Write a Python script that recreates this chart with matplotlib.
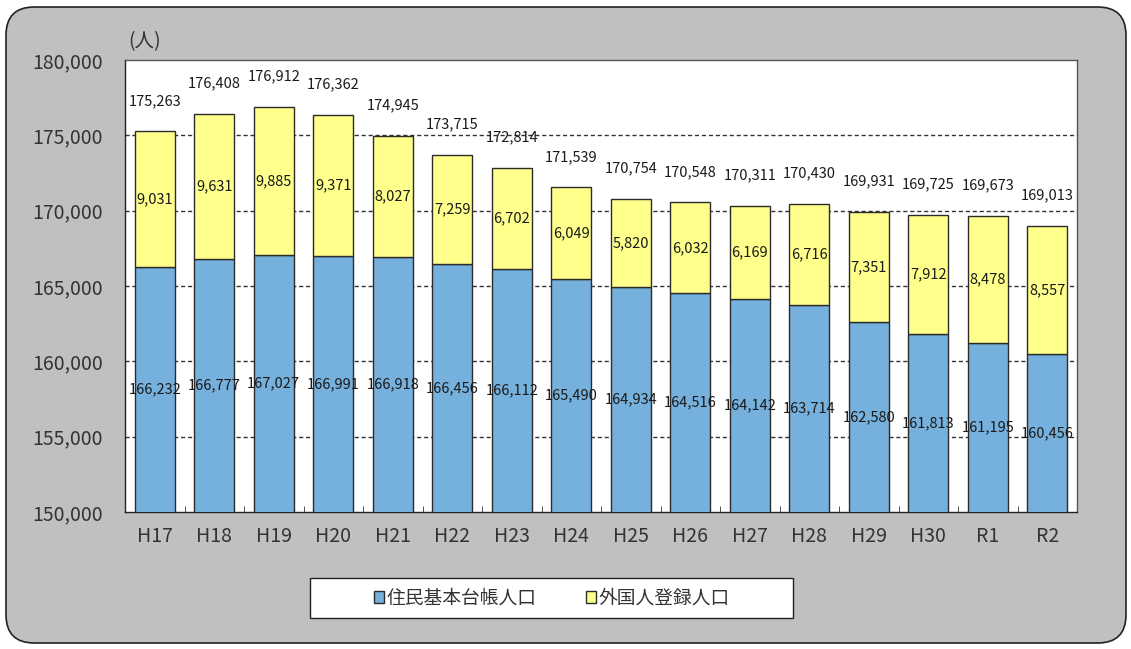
import matplotlib
matplotlib.use("Agg")
import matplotlib.pyplot as plt
from matplotlib.patches import FancyBboxPatch, Rectangle
from matplotlib.ticker import FuncFormatter

plt.rcParams['font.family'] = ['Noto Sans CJK JP', 'DejaVu Sans']

# data
years = ['H17', 'H18', 'H19', 'H20', 'H21', 'H22', 'H23', 'H24',
         'H25', 'H26', 'H27', 'H28', 'H29', 'H30', 'R1', 'R2']
resident = [166232, 166777, 167027, 166991, 166918, 166456, 166112, 165490,
            164934, 164516, 164142, 163714, 162580, 161813, 161195, 160456]
foreign = [9031, 9631, 9885, 9371, 8027, 7259, 6702, 6049,
           5820, 6032, 6169, 6716, 7351, 7912, 8478, 8557]
series_names = ['住民基本台帳人口', '外国人登録人口']

blue = '#76B0DD'
yellow = '#FFFF8C'
ymin, ymax = 150000, 180000

fig = plt.figure(figsize=(11.31, 6.49), dpi=100)
fig.patch.set_facecolor('white')

# gray rounded panel behind everything
panel = FancyBboxPatch((6 / 1131, 6 / 649), 1120 / 1131, 636 / 649,
                       boxstyle='round,pad=0,rounding_size=0.025',
                       transform=fig.transFigure, facecolor='#C0C0C0',
                       edgecolor='#222222', linewidth=1.2, zorder=-10,
                       mutation_aspect=1131 / 649)
fig.patches.append(panel)

ax = fig.add_axes([125 / 1131, 1 - 512 / 649, 952 / 1131, 452 / 649])
ax.set_zorder(1)
ax.set_facecolor('white')

x = list(range(len(years)))
width = 0.67
totals = [r + f for r, f in zip(resident, foreign)]

ax.bar(x, resident, width, color=blue, edgecolor='#2b2b2b', linewidth=1.0,
       label=series_names[0], zorder=3)
ax.bar(x, foreign, width, bottom=resident, color=yellow, edgecolor='#2b2b2b',
       linewidth=1.0, label=series_names[1], zorder=3)

lab_kw = dict(ha='center', va='center', fontsize=10.5, color='#1a1a1a', zorder=5)
for i in x:
    # resident label at middle of the visible blue part
    ax.text(i, (resident[i] + ymin) / 2, f'{resident[i]:,}', **lab_kw)
    # foreign label at middle of yellow part
    ax.text(i, resident[i] + foreign[i] / 2, f'{foreign[i]:,}', **lab_kw)
    # total above bar
    ax.annotate(f'{totals[i]:,}', (i, totals[i]), xytext=(0, 22),
                textcoords='offset points', ha='center', va='center',
                fontsize=10.5, color='#1a1a1a', zorder=5)

ax.set_ylim(ymin, ymax)
ax.set_xlim(-0.5, len(years) - 0.5)
ax.set_yticks(range(ymin, ymax + 1, 5000))
ax.yaxis.set_major_formatter(FuncFormatter(lambda v, p: f'{int(v):,}'))
ax.tick_params(axis='y', length=0, labelsize=14, labelcolor='#333333', pad=16)
ax.set_xticks(x)
ax.set_xticklabels(years)
ax.tick_params(axis='x', length=0, labelsize=14, labelcolor='#333333', pad=10)
# small inward ticks between categories
ax.set_xticks([i + 0.5 for i in x[:-1]], minor=True)
ax.tick_params(axis='x', which='minor', direction='in', length=4, color='#333333')

for v in range(155000, 176000, 5000):
    ax.axhline(v, color='#333333', linestyle=(0, (3, 2)), linewidth=1.0, zorder=2)

for s in ax.spines.values():
    s.set_color('#555555')
    s.set_linewidth(1.0)
ax.spines['left'].set_color('#222222')
ax.spines['bottom'].set_color('#222222')

fig.text(128 / 1131, 1 - 42 / 649, '(人)', fontsize=14, color='#333333',
         va='center', ha='left')

# legend box
fig.patches.append(Rectangle((310 / 1131, 1 - 618 / 649), 483 / 1131, 40 / 649,
                             transform=fig.transFigure, facecolor='white',
                             edgecolor='#222222', linewidth=1.0, zorder=0.5))
leg = fig.legend(loc='center', bbox_to_anchor=(552 / 1131, 1 - 598 / 649),
                 ncol=2, frameon=False, fontsize=13.5, handlelength=0.55,
                 handleheight=0.55, handletextpad=0.15, columnspacing=2.6,
                 labelcolor='#333333')
for h in leg.legend_handles:
    h.set_linewidth(1.0)

fig.savefig('out.png', dpi=100)
